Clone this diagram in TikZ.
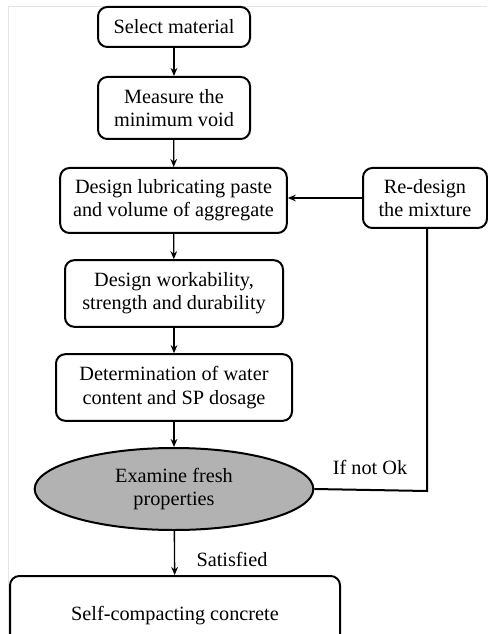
\documentclass[tikz,border=0pt]{standalone}
\usepackage{fontspec}
\setmainfont{Liberation Serif}
\usetikzlibrary{shapes.geometric,arrows.meta}
\definecolor{ellfill}{RGB}{178,178,178}
\begin{document}
\begin{tikzpicture}[x=0.75pt,y=-0.75pt,
  box/.style={draw,line width=1.5pt,rounded corners=7pt,align=center,inner sep=0pt},
  conn/.style={line width=1pt,-{Stealth[length=6pt,width=5pt]}},
  line/.style={line width=1.5pt},
  txt/.style={font=\fontsize{15.2}{17.4}\selectfont}]
\useasboundingbox (0,0) rectangle (487,634);
\draw[black!10,line width=0.6pt] (8,634) -- (8,6) -- (487,6);
\tikzset{every node/.append style={txt}}
\node[box,minimum width=114pt,minimum height=30pt] (sel) at (174,27) {Select material};
\node[box,minimum width=114pt,minimum height=46.5pt] (meas) at (174,108) {Measure the\\minimum void};
\node[box,minimum width=170pt,minimum height=48.75pt] (lub) at (173.5,200.5) {Design lubricating paste\\and volume of aggregate};
\node[box,minimum width=93pt,minimum height=45pt] (redes) at (425,198) {Re-design\\the mixture};
\node[box,minimum width=163.5pt,minimum height=50pt] (work) at (174,293.5) {Design workability,\\strength and durability};
\node[box,minimum width=177pt,minimum height=50pt] (det) at (174,387.5) {Determination of water\\content and SP dosage};
\node[ellipse,draw,line width=1.5pt,fill=ellfill,minimum width=209pt,minimum height=61.5pt,align=center,inner sep=0pt] (exam) at (174,489) {Examine fresh\\properties};
\node[box,minimum width=247.5pt,minimum height=60pt] (scc) at (175,616) {Self-compacting concrete};
\node (ifnot) at (370,467) {If not Ok};
\node (sat) at (232,559) {Satisfied};
\coordinate (corner) at (427,491);
\draw[conn] (sel) -- (meas);
\draw[conn] (meas) -- (lub);
\draw[conn] (lub) -- (work);
\draw[conn] (work) -- (det);
\draw[conn] (det) -- (exam);
\draw[conn] (exam) -- (scc);
\draw[conn] (redes.west) -- (lub.east |- redes.west);
\draw[line] (exam.east) -- (corner) -- (corner |- redes.south);
\end{tikzpicture}
\end{document}
